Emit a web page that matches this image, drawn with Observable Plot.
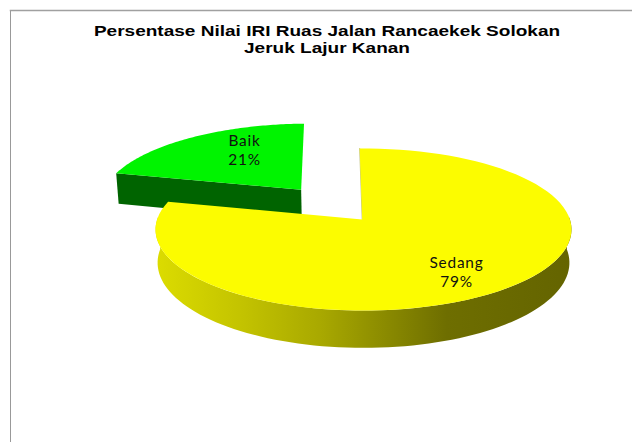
<!DOCTYPE html>
<html>
<head>
<meta charset="utf-8">
<script src="https://cdn.jsdelivr.net/npm/d3@7"></script>
<script src="https://cdn.jsdelivr.net/npm/@observablehq/plot@0.6"></script>
<style>
  html, body { margin: 0; padding: 0; background: #fff; }
  svg { display: block; }
  /* Judul dilebarkan mendatar */
  .judul { transform-box: fill-box; transform-origin: center; transform: translate(6px, 14px) scaleX(1.236); }
  .label-irisan { letter-spacing: 0.8px; }
</style>
</head>
<body>
<div id="chart"></div>
<script>
// Nilai tiap kategori (persen)
const categories = ["Baik", "Sedang"];
const values = [21, 79];
const titleLines = ["Persentase Nilai IRI Ruas Jalan Rancaekek Solokan", "Jeruk Lajur Kanan"];

// Warna irisan
const topColors = {Baik: "#00f400", Sedang: "#fcfc00"};
const greenWall = "#006400";

// Parameter tampilan 3D: perspektif, tebal piringan, pergeseran irisan
const persp = 0.1235;
const thickness = 0.41;
const shrink = 0.01;
const startDeg = -1.2;
const exploded = {Baik: [-0.31, 0.39], Sedang: [0, 0]};
const rimShift = {Baik: 0, Sedang: 0.0063};
const rimDepth = {Baik: 1.02, Sedang: 1};
const labelAt = {Baik: [-0.57, 0.877], Sedang: [0.457, -0.65]};

// Proyeksi titik pada piringan ke bidang gambar (z = 0 atas, z = 1 bawah)
function project(X, Y, z = 0) {
  const w = 1 + persp * Y;
  return {u: X * (1 - z * shrink) / w, v: (Y - z * thickness) / w};
}
const rad = (d) => (d * Math.PI) / 180;

// Sudut tiap irisan, searah jarum jam; Sedang dimulai dari atas
const total = d3.sum(values);
const sweep = Object.fromEntries(categories.map((c, i) => [c, (values[i] / total) * 360]));
const angles = {
  Sedang: [startDeg, startDeg + sweep.Sedang],
  Baik: [startDeg + sweep.Sedang, startDeg + 360]
};

function rimPoint(cat, deg, z = 0) {
  const [ex, ey] = exploded[cat];
  const p = project(ex + Math.sin(rad(deg)), ey + rimDepth[cat] * Math.cos(rad(deg)), z);
  return {u: p.u + rimShift[cat], v: p.v};
}
function tipPoint(cat, z = 0) {
  const [ex, ey] = exploded[cat];
  return project(ex, ey, z);
}
function arc(cat, a0, a1, z = 0) {
  const n = 90;
  return d3.range(n + 1).map((i) => rimPoint(cat, a0 + ((a1 - a0) * i) / n, z));
}

const slice = (cat) => [tipPoint(cat), ...arc(cat, ...angles[cat])];

// Dinding depan Sedang: tepi atas lalu tepi bawah terbalik
const sedangWall = [...arc("Sedang", 88, 272), ...arc("Sedang", 272, 88, 1)];
// Dinding potongan Baik yang menghadap ke depan
const [baikStart] = angles.Baik;
const baikWall = [
  rimPoint("Baik", baikStart),
  tipPoint("Baik"),
  tipPoint("Baik", 1),
  rimPoint("Baik", baikStart, 1)
];
// Sisi potongan Sedang yang terlihat tipis di tepi takik
const notchEdge = [rimPoint("Sedang", startDeg), tipPoint("Sedang")];

const labels = categories.map((c, i) => ({
  text: `${c}\n${values[i]}%`,
  u: labelAt[c][0],
  v: labelAt[c][1]
}));

const xScale = 206.4, yScale = 79.8;
const tipX = 361.7, tipY = 219;
const W = 632, H = 442, L = 10, T = 10;

const wallGradient = () => {
  const ns = "http://www.w3.org/2000/svg";
  const defs = document.createElementNS(ns, "defs");
  const g = document.createElementNS(ns, "linearGradient");
  g.setAttribute("id", "dinding");
  [[0, "#dcdc00"], [0.2, "#c4c400"], [0.4, "#a8a800"], [0.7, "#6e6e00"], [1, "#646400"]].forEach(([o, c]) => {
    const s = document.createElementNS(ns, "stop");
    s.setAttribute("offset", o);
    s.setAttribute("stop-color", c);
    g.appendChild(s);
  });
  defs.appendChild(g);
  return defs;
};

const polygon = (pts, fill) =>
  Plot.line(pts, {x: "u", y: "v", fill, stroke: "none", curve: "linear-closed"});

const chart = Plot.plot({
  width: W,
  height: H,
  marginLeft: L,
  marginTop: T,
  marginRight: 0,
  marginBottom: 0,
  x: {domain: [(L - tipX) / xScale, (W - tipX) / xScale], axis: null},
  y: {domain: [(tipY - H) / yScale, (tipY - T) / yScale], axis: null},
  marks: [
    wallGradient,
    Plot.frame({anchor: "left", stroke: "#999"}),
    Plot.frame({anchor: "top", stroke: "#a0a0a0", strokeWidth: 1.5}),
    polygon(baikWall, greenWall),
    polygon(slice("Baik"), topColors.Baik),
    polygon(sedangWall, "url(#dinding)"),
    Plot.line(notchEdge, {x: "u", y: "v", stroke: "#8a8a10", strokeWidth: 1, strokeOpacity: 0.5}),
    polygon(slice("Sedang"), topColors.Sedang),
    Plot.text(labels, {
      x: "u", y: "v", text: "text",
      fontFamily: "Lato, sans-serif", fontSize: 15.4, lineHeight: 1.22, fill: "#111",
      className: "label-irisan"
    }),
    Plot.text([titleLines.join("\n")], {
      text: (d) => d,
      frameAnchor: "top",
      lineHeight: 1.12,
      fontFamily: "'Liberation Sans', Arial, sans-serif",
      fontWeight: "bold",
      fontSize: 15.4,
      fill: "#000",
      className: "judul"
    })
  ]
});

document.getElementById("chart").appendChild(chart);
</script>
</body>
</html>
